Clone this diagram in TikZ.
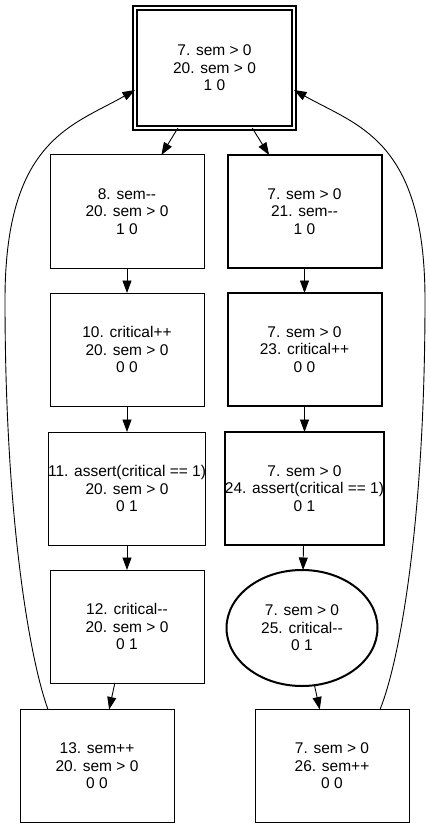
\documentclass[tikz,border=0pt]{standalone}
\usepackage{fontspec}
\setmainfont{Liberation Sans}
\usetikzlibrary{arrows.meta}
\usetikzlibrary{shapes.geometric}

\tikzset{
  state/.style={draw, rectangle, line width=1pt, inner sep=0pt, outer sep=0pt,
    minimum width=154pt, minimum height=113pt, align=center,
    font=\fontsize{15.5}{17.5}\selectfont},
  boldstate/.style={state, line width=2pt},
  startstate/.style={state, line width=1.8pt, double distance=2pt,
    minimum width=159pt, minimum height=120pt},
  oval/.style={state, ellipse, line width=2pt, minimum width=151pt, minimum height=116pt},
  link/.style={-{Triangle[length=12.5pt,width=9pt]}, line width=0.9pt}
}

\begin{document}
\begin{tikzpicture}[x=1pt, y=-1pt]
  \useasboundingbox[fill=white] (0, 0) rectangle (430, 829);

  \node[startstate] (s0) at (214.5, 68) {7. sem > 0\\20. sem > 0\\1 0};

  \node[state] (l1) at (127, 211.5) {8. sem-{}-\\20. sem > 0\\1 0};
  \node[state] (l2) at (127, 349.5) {10. critical++\\20. sem > 0\\0 0};
  \node[state] (l3) at (127, 488.5) {11. assert(critical == 1)\\20. sem > 0\\0 1};
  \node[state] (l4) at (127, 626.5) {12. critical-{}-\\20. sem > 0\\0 1};
  \node[state] (l5) at (97, 766) {13. sem++\\20. sem > 0\\0 0};

  \node[boldstate] (r1) at (304.5, 211.5) {7. sem > 0\\21. sem-{}-\\1 0};
  \node[boldstate] (r2) at (304.5, 349.5) {7. sem > 0\\23. critical++\\0 0};
  \node[boldstate] (r3) at (304.5, 488.5) {7. sem > 0\\24. assert(critical == 1)\\0 1};
  \node[oval] (r4) at (302, 628) {7. sem > 0\\25. critical-{}-\\0 1};
  \node[state] (r5) at (332, 766) {7. sem > 0\\26. sem++\\0 0};

  \draw[link] (s0) -- (l1);
  \draw[link] (s0) -- (r1);
  \draw[link] (l1) -- (l2);
  \draw[link] (l2) -- (l3);
  \draw[link] (l3) -- (l4);
  \draw[link] (l4) -- (l5);
  \draw[link] (r1) -- (r2);
  \draw[link] (r2) -- (r3);
  \draw[link] (r3) -- (r4);
  \draw[link] (r4) -- (r5);

  % back edges to the start state
  \draw[link] ([xshift=-49pt]l5.north) .. controls (30, 660) and (5, 520) .. (5, 300)
    .. controls (5, 140) and (72, 126) .. ([yshift=-22pt]s0.west);
  \draw[link] ([xshift=48pt]r5.north) .. controls (400, 660) and (425, 520) .. (425, 300)
    .. controls (425, 140) and (358, 126) .. ([yshift=-22pt]s0.east);

\end{tikzpicture}
\end{document}
